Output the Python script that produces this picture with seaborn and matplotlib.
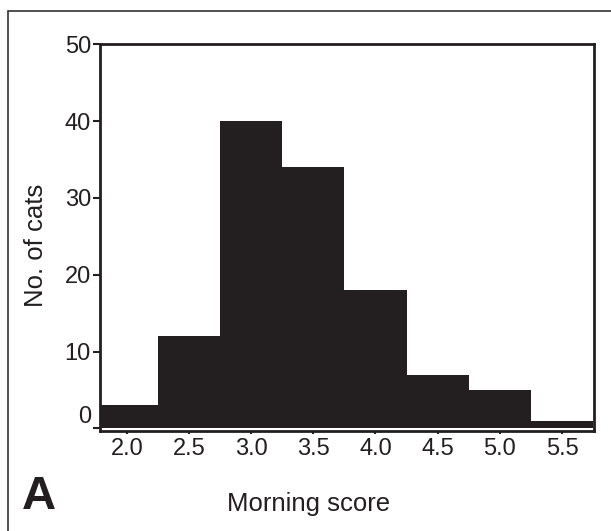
import matplotlib
matplotlib.use("Agg")
import matplotlib.pyplot as plt
import matplotlib.transforms as mtransforms
from matplotlib.patches import Rectangle
import seaborn as sns

# data (bin centre -> number of cats)
score_bins = [2.0, 2.5, 3.0, 3.5, 4.0, 4.5, 5.0, 5.5]
n_cats = [3, 12, 40, 34, 18, 7, 5, 1]
y_ticks = [0, 10, 20, 30, 40, 50]

ink = "#231f20"

sns.set_style("white")
plt.rcParams["font.family"] = ["Liberation Sans", "DejaVu Sans"]

fig = plt.figure(figsize=(6.11, 5.31), dpi=100)
ax = fig.add_axes([0.1637, 0.1883, 0.8090, 0.7283])

sns.histplot(x=score_bins, weights=n_cats, binwidth=0.5, binrange=(1.75, 5.75),
             color=ink, alpha=1, linewidth=0, ax=ax)

ax.set_xlim(1.785, 5.76)
ax.set_ylim(-0.35, 50)
ax.set_xticks(score_bins)
ax.set_xticklabels([f"{v:.1f}" for v in score_bins])
ax.set_yticks(y_ticks)

for s in ax.spines.values():
    s.set_visible(True)
    s.set_linewidth(2)
    s.set_color(ink)

ax.tick_params(axis="y", left=True, length=5, width=1.5, pad=1.5, labelsize=17, colors=ink)
ax.tick_params(axis="x", bottom=True, length=2, width=1.5, pad=3, labelsize=17, colors=ink)

# the "0" label sits a bit above its tick in the original
lab0 = ax.get_yticklabels()[0]
lab0.set_transform(lab0.get_transform() + mtransforms.ScaledTranslation(0, 10 / 72, fig.dpi_scale_trans))

ax.set_xlabel("Morning score", fontsize=18.5, color=ink)
ax.xaxis.label.set_va("center")
ax.xaxis.set_label_coords(0.4228, -0.189)
ax.set_ylabel("No. of cats", fontsize=18.5, color=ink)
ax.yaxis.label.set_va("center")
ax.yaxis.set_label_coords(-0.130, 0.479)

fig.text(39 / 611, 1 - 497 / 531, "A", fontsize=34, fontweight="bold",
         ha="center", va="center", color=ink)

# panel frame (right and bottom edges fall outside the image)
fig.add_artist(Rectangle((8.3 / 611, -0.2), 1.2, 1.2 - 10.7 / 531,
                         transform=fig.transFigure, fill=False,
                         linewidth=1.2, edgecolor="#333333"))

fig.savefig("out.png", dpi=100)
